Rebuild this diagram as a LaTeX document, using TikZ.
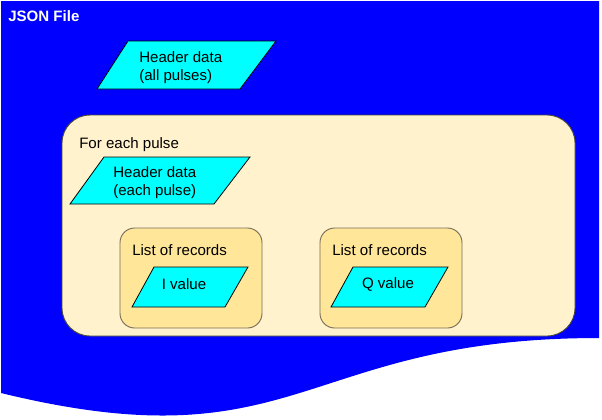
\documentclass[tikz,border=0pt]{standalone}
\usepackage{fontspec}
\setmainfont{Liberation Sans}
\usetikzlibrary{calc}
\definecolor{filebg}{RGB}{0,0,255}
\definecolor{pulsebg}{RGB}{255,242,204}
\definecolor{listbg}{RGB}{255,230,153}
\definecolor{databg}{RGB}{0,255,255}
\definecolor{edgegray}{RGB}{70,70,60}
\definecolor{listedge}{RGB}{120,110,90}

\tikzset{
  datashape/.style={draw=black, fill=databg, line width=0.6pt, line join=miter},
  loopshape/.style={draw=edgegray, fill=pulsebg, line width=0.7pt, rounded corners=21pt},
  listshape/.style={draw=listedge, fill=listbg, line width=0.7pt, rounded corners=11pt},
  lbl/.style={inner sep=0pt, font=\fontsize{11.3}{13.5}\selectfont},
}

\begin{document}
\begin{tikzpicture}[x=0.75pt, y=-0.75pt]
    \useasboundingbox (0,0) rectangle (602,419);
    \fill[filebg] (1,1) -- (599,1) -- (599,338)
        .. controls (300,338) and (300,466) .. (1,393) -- cycle;
    \node[lbl, anchor=base west, text=white, font=\fontsize{11.3}{13}\selectfont\bfseries] (jsonlbl) at (8,21) {JSON File};

    \draw[datashape] (128,41) -- (276,41) -- (240,89) -- (97,89) -- cycle;
    \node[lbl, align=left, anchor=west] (hdrall) at (139,68) {Header data\\(all pulses)};

    \draw[loopshape] (62,115) rectangle (575,336);
    \node[lbl, anchor=base west] (looplbl) at (79,148) {For each pulse};

    \draw[datashape] (104,157) -- (250,157) -- (214,204) -- (70,204) -- cycle;
    \node[lbl, align=left, anchor=west] (hdreach) at (113,183) {Header data\\(each pulse)};

    \draw[listshape] (120,228) rectangle (262,328);
    \node[lbl, anchor=base west] (listi) at (132,255) {List of records};
    \draw[datashape] (154,267) -- (248,267) -- (225,307) -- (132,307) -- cycle;
    \node[lbl] (ival) at (184,284) {I value};

    \draw[listshape] (320,228) rectangle (462,328);
    \node[lbl, anchor=base west] (listq) at (332,255) {List of records};
    \draw[datashape] (353,267) -- (448,267) -- (425,307) -- (331,307) -- cycle;
    \node[lbl] (qval) at (388,284) {Q value};
\end{tikzpicture}
\end{document}
